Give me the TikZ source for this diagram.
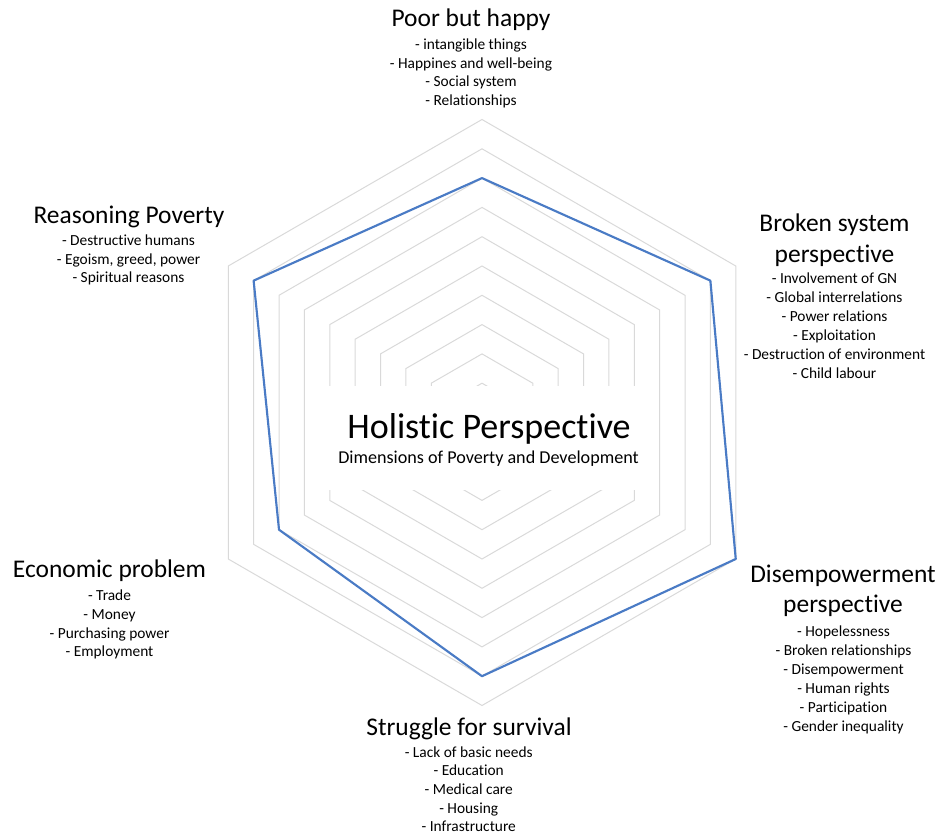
\documentclass[tikz,border=0pt]{standalone}
\usepackage{fontspec}
\setmainfont{Carlito}[Ligatures=NoCommon]
\definecolor{gridgray}{HTML}{D9D9D9}
\definecolor{serieblue}{HTML}{4A7BC5}
\begin{document}
\begin{tikzpicture}[x=0.75pt,y=-0.75pt,
  ttl/.style={font=\fontsize{19.1}{23}\selectfont, anchor=base, inner sep=0pt},
  itm/.style={font=\fontsize{11.55}{14}\selectfont, anchor=base, inner sep=0pt},
  ring/.style={draw=gridgray, line width=0.75pt},
  serie/.style={draw=serieblue, line width=1.6pt, line join=round}]
\useasboundingbox (0,0) rectangle (943,837);
\coordinate (O) at (482,412.5);
% grid rings
\foreach \i in {1,...,10}{
  \draw[ring] (482,{412.5-29.3*\i})
    \foreach \k in {1,...,5}{ -- ({482+29.3*\i*cos(90+60*\k)},{412.5-29.3*\i*sin(90+60*\k)}) } -- cycle;
}
% data series
\coordinate (vT)  at ({482+29.3*8*cos(90)},{412.5-29.3*8*sin(90)});
\coordinate (vUR) at ({482+29.3*9*cos(30)},{412.5-29.3*9*sin(30)});
\coordinate (vLR) at ({482+29.3*10*cos(-30)},{412.5-29.3*10*sin(-30)});
\coordinate (vB)  at ({482+29.3*9*cos(-90)},{412.5-29.3*9*sin(-90)});
\coordinate (vLL) at ({482+29.3*8*cos(210)},{412.5-29.3*8*sin(210)});
\coordinate (vUL) at ({482+29.3*9*cos(150)},{412.5-29.3*9*sin(150)});
\draw[serie] (vT) -- (vUR) -- (vLR) -- (vB) -- (vLL) -- (vUL) -- cycle;
% centre label
\fill[white] (316,386) rectangle (650,490);
\node[font=\fontsize{27}{32}\selectfont, anchor=base, inner sep=0pt] (holistic) at (489,438.3) {Holistic Perspective};
\node[font=\fontsize{13.6}{16}\selectfont, anchor=base, inner sep=0pt] (dims) at (488.5,464) {Dimensions of Poverty and Development};
% Poor but happy
\node[ttl] (poor) at (471,27) {Poor but happy};
\foreach \t [count=\i] in {- intangible things, - Happines and well-being, - Social system, - Relationships}
  \node[itm] (poor-\i) at (471,{49.3+18.8*(\i-1)}) {\t};
% Reasoning Poverty
\node[ttl] (reason) at (129,224) {Reasoning Poverty};
\foreach \t [count=\i] in {- Destructive humans, {- Egoism, greed, power}, - Spiritual reasons}
  \node[itm] (reason-\i) at (128.5,{246+18.5*(\i-1)}) {\t};
% Broken system perspective
\node[ttl] (broken) at (834.5,231.7) {Broken system};
\node[ttl] (broken-b) at (834.5,262.7) {perspective};
\foreach \t [count=\i] in {- Involvement of GN, - Global interrelations, - Power relations, - Exploitation, - Destruction of environment, - Child labour}
  \node[itm] (broken-\i) at (834.5,{284+18.9*(\i-1)}) {\t};
% Economic problem
\node[ttl] (econ) at (109.5,577.3) {Economic problem};
\foreach \t [count=\i] in {- Trade, - Money, - Purchasing power, - Employment}
  \node[itm] (econ-\i) at (109.5,{600.7+18.7*(\i-1)}) {\t};
% Disempowerment perspective
\node[ttl] (disemp) at (843,582.7) {Disempowerment};
\node[ttl] (disemp-b) at (843,612.7) {perspective};
\foreach \t [count=\i] in {- Hopelessness, - Broken relationships, - Disempowerment, - Human rights, - Participation, - Gender inequality}
  \node[itm] (disemp-\i) at (843.5,{636.7+19*(\i-1)}) {\t};
% Struggle for survival
\node[ttl] (struggle) at (469,735) {Struggle for survival};
\foreach \t [count=\i] in {- Lack of basic needs, - Education, - Medical care, - Housing, - Infrastructure}
  \node[itm] (struggle-\i) at (468.7,{757.3+18.6*(\i-1)}) {\t};
\end{tikzpicture}
\end{document}
